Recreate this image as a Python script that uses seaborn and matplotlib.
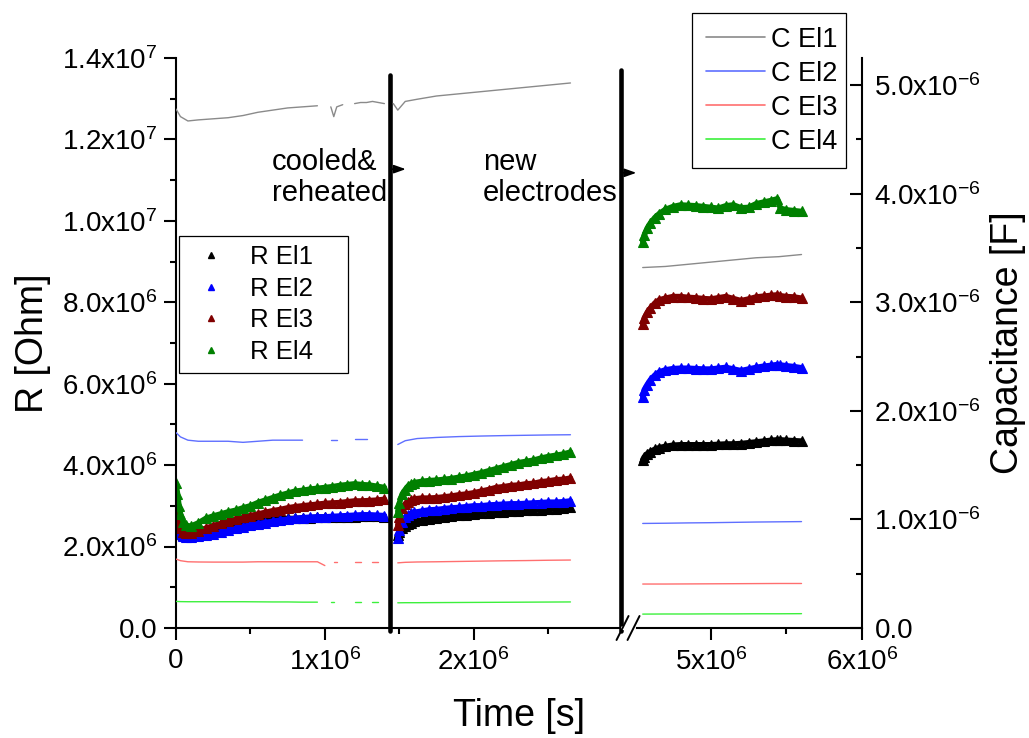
import numpy as np
import pandas as pd
import matplotlib
matplotlib.use("Agg")
import matplotlib.pyplot as plt
from matplotlib.lines import Line2D
import seaborn as sns

# ---------------- data ----------------
# time in units of 1e6 s, resistance in units of 1e6 Ohm, capacitance in units of 1e-6 F
r_names = ["R El1", "R El2", "R El3", "R El4"]
r_colors = ["#000000", "#0000ff", "#800000", "#008000"]
c_names = ["C El1", "C El2", "C El3", "C El4"]
c_colors = ["#8a8a8a", "#5f6fff", "#ff6f6f", "#3cf03c"]

# first run
t_r1 = [0.00, 0.01, 0.02, 0.03, 0.05, 0.07, 0.10, 0.15, 0.20, 0.25, 0.30, 0.35, 0.40,
        0.45, 0.50, 0.55, 0.60, 0.65, 0.70, 0.75, 0.80, 0.85, 0.90, 0.95, 1.00, 1.05,
        1.10, 1.15, 1.20, 1.25, 1.30, 1.35, 1.40]
r_el1_run1 = [2.50, 2.38, 2.32, 2.30, 2.28, 2.28, 2.28, 2.32, 2.36, 2.40, 2.45, 2.50, 2.54,
              2.58, 2.61, 2.63, 2.65, 2.67, 2.68, 2.69, 2.69, 2.70, 2.71, 2.72, 2.72, 2.72,
              2.72, 2.73, 2.73, 2.74, 2.74, 2.74, 2.73]
r_el2_run1 = [2.60, 2.45, 2.35, 2.30, 2.25, 2.23, 2.23, 2.25, 2.28, 2.32, 2.36, 2.40, 2.45,
              2.49, 2.53, 2.56, 2.59, 2.62, 2.65, 2.67, 2.69, 2.71, 2.72, 2.73, 2.73, 2.74,
              2.75, 2.76, 2.77, 2.78, 2.78, 2.77, 2.76]
r_el3_run1 = [3.06, 2.73, 2.53, 2.45, 2.37, 2.34, 2.34, 2.39, 2.45, 2.51, 2.57, 2.63, 2.68,
              2.72, 2.76, 2.80, 2.84, 2.88, 2.91, 2.95, 2.98, 3.00, 3.02, 3.04, 3.06, 3.07,
              3.08, 3.10, 3.12, 3.12, 3.13, 3.14, 3.16]
r_el4_run1 = [3.55, 3.30, 3.00, 2.80, 2.60, 2.52, 2.50, 2.58, 2.69, 2.75, 2.80, 2.85, 2.89,
              2.95, 3.00, 3.08, 3.14, 3.20, 3.26, 3.31, 3.36, 3.38, 3.41, 3.43, 3.45, 3.47,
              3.50, 3.52, 3.54, 3.52, 3.51, 3.48, 3.45]

# second run (cooled & reheated)
t_r2 = [1.49, 1.50, 1.52, 1.54, 1.56, 1.58, 1.60, 1.65, 1.70, 1.75, 1.80, 1.85, 1.90, 1.95,
        2.00, 2.05, 2.10, 2.15, 2.20, 2.25, 2.30, 2.35, 2.40, 2.45, 2.50, 2.55, 2.60, 2.65]
r_el1_run2 = [2.28, 2.36, 2.45, 2.50, 2.55, 2.58, 2.62, 2.65, 2.68, 2.71, 2.73, 2.75, 2.77, 2.78,
              2.80, 2.82, 2.83, 2.84, 2.86, 2.87, 2.88, 2.89, 2.90, 2.91, 2.92, 2.93, 2.94, 2.96]
r_el2_run2 = [2.20, 2.40, 2.61, 2.72, 2.78, 2.82, 2.84, 2.87, 2.90, 2.91, 2.93, 2.95, 2.96, 2.98,
              3.00, 3.00, 3.02, 3.03, 3.04, 3.05, 3.05, 3.06, 3.07, 3.08, 3.09, 3.09, 3.10, 3.12]
r_el3_run2 = [2.53, 2.73, 2.94, 3.05, 3.10, 3.14, 3.17, 3.19, 3.19, 3.20, 3.22, 3.24, 3.27, 3.29,
              3.32, 3.36, 3.40, 3.45, 3.47, 3.50, 3.51, 3.54, 3.55, 3.59, 3.61, 3.64, 3.65, 3.68]
r_el4_run2 = [2.86, 3.06, 3.29, 3.40, 3.49, 3.54, 3.57, 3.60, 3.62, 3.63, 3.65, 3.67, 3.70, 3.73,
              3.77, 3.81, 3.86, 3.91, 3.96, 4.01, 4.06, 4.09, 4.12, 4.17, 4.21, 4.24, 4.27, 4.32]

# third run (new electrodes)
t_r3 = [4.55, 4.56, 4.58, 4.60, 4.63, 4.66, 4.70, 4.75, 4.80, 4.85, 4.90, 4.95, 5.00,
        5.05, 5.10, 5.15, 5.20, 5.25, 5.30, 5.35, 5.40, 5.44, 5.46, 5.50, 5.55, 5.60]
r_el1_run3 = [4.13, 4.20, 4.28, 4.33, 4.39, 4.43, 4.46, 4.49, 4.50, 4.50, 4.50, 4.50, 4.50,
              4.51, 4.52, 4.52, 4.53, 4.55, 4.57, 4.59, 4.61, 4.62, 4.62, 4.61, 4.60, 4.59]
r_el2_run3 = [5.68, 5.85, 5.98, 6.09, 6.21, 6.29, 6.34, 6.37, 6.38, 6.38, 6.37, 6.36, 6.36,
              6.38, 6.40, 6.36, 6.32, 6.36, 6.40, 6.43, 6.45, 6.47, 6.46, 6.44, 6.42, 6.39]
r_el3_run3 = [7.47, 7.61, 7.75, 7.85, 7.98, 8.06, 8.10, 8.14, 8.14, 8.12, 8.11, 8.09, 8.08,
              8.11, 8.14, 8.09, 8.04, 8.08, 8.13, 8.15, 8.17, 8.18, 8.16, 8.14, 8.13, 8.10]
r_el4_run3 = [9.49, 9.65, 9.82, 9.94, 10.08, 10.18, 10.28, 10.35, 10.39, 10.38, 10.37, 10.35, 10.33,
              10.31, 10.37, 10.39, 10.32, 10.33, 10.42, 10.46, 10.50, 10.54, 10.31, 10.27, 10.25, 10.23]

# capacitance (None = no reading logged)
t_c1 = [0.00, 0.03, 0.08, 0.15, 0.25, 0.35, 0.45, 0.55, 0.65, 0.75, 0.85, 0.95, 1.00,
        1.04, 1.06, 1.08, 1.12, 1.16, 1.20, 1.24, 1.28, 1.32, 1.36, 1.40]
c_el1_run1 = [4.78, 4.71, 4.67, 4.68, 4.69, 4.70, 4.72, 4.75, 4.77, 4.79, 4.80, 4.81, None,
              4.80, 4.71, 4.80, 4.82, None, 4.83, 4.84, 4.84, 4.85, 4.84, 4.83]
c_el2_run1 = [1.80, 1.76, 1.73, 1.72, 1.72, 1.72, 1.71, 1.72, 1.73, 1.73, 1.73, None, None,
              1.735, 1.735, 1.735, None, None, 1.74, 1.74, 1.74, None, None, None]
c_el3_run1 = [0.635, 0.62, 0.61, 0.608, 0.607, 0.607, 0.607, 0.61, 0.61, 0.61, 0.61, 0.61, 0.575,
              None, 0.61, 0.61, None, None, 0.61, 0.61, None, 0.61, 0.61, None]
c_el4_run1 = [0.245, 0.243, 0.242, 0.242, 0.242, 0.242, 0.242, 0.241, 0.240, 0.240, 0.238, 0.238, None,
              0.236, 0.236, None, 0.236, None, 0.236, 0.236, None, 0.236, 0.236, None]

t_c2 = [1.46, 1.49, 1.54, 1.62, 1.75, 1.90, 2.05, 2.20, 2.35, 2.50, 2.65]
c_el1_run2 = [4.83, 4.77, 4.85, 4.87, 4.90, 4.92, 4.94, 4.96, 4.98, 5.00, 5.02]
c_el2_run2 = [None, 1.69, 1.725, 1.745, 1.755, 1.763, 1.768, 1.772, 1.775, 1.778, 1.78]
c_el3_run2 = [None, 0.60, 0.605, 0.608, 0.61, 0.613, 0.616, 0.619, 0.621, 0.624, 0.626]
c_el4_run2 = [None, 0.232, 0.233, 0.233, 0.234, 0.235, 0.236, 0.237, 0.238, 0.239, 0.240]

t_c3 = [4.55, 4.70, 4.85, 5.00, 5.15, 5.30, 5.45, 5.60]
c_el1_run3 = [3.32, 3.33, 3.35, 3.37, 3.39, 3.41, 3.42, 3.44]
c_el2_run3 = [0.963, 0.965, 0.968, 0.970, 0.973, 0.976, 0.978, 0.980]
c_el3_run3 = [0.405, 0.405, 0.406, 0.407, 0.408, 0.409, 0.410, 0.410]
c_el4_run3 = [0.128, 0.129, 0.129, 0.130, 0.130, 0.131, 0.131, 0.132]

# events marked by vertical bars (1e6 s)
event_times = [1.441, 2.99]
event_labels = ["cooled&\nreheated", "new\nelectrodes"]
event_label_x = [0.646, 2.06]

# axis ticks
x_major = [0, 1, 2, 5, 6]
x_major_labels = ["0", "1x10$^{6}$", "2x10$^{6}$", "5x10$^{6}$", "6x10$^{6}$"]
x_minor = [0.5, 1.5, 2.5, 5.5]
r_major = [0, 2, 4, 6, 8, 10, 12, 14]
r_major_labels = ["0.0", "2.0x10$^{6}$", "4.0x10$^{6}$", "6.0x10$^{6}$", "8.0x10$^{6}$",
                  "1.0x10$^{7}$", "1.2x10$^{7}$", "1.4x10$^{7}$"]
c_major = [0, 1, 2, 3, 4, 5]
c_major_labels = ["0.0", "1.0x10$^{-6}$", "2.0x10$^{-6}$", "3.0x10$^{-6}$",
                  "4.0x10$^{-6}$", "5.0x10$^{-6}$"]

# ---------------- long-form tables ----------------
def build_frame(names, runs, value_scale):
    rows = []
    for name, pieces in zip(names, runs):
        for k, (t, v) in enumerate(pieces):
            part = 0
            prev_missing = False
            for ti, vi in zip(t, v):
                if vi is None:
                    prev_missing = True
                    continue
                if prev_missing:
                    part += 1
                    prev_missing = False
                rows.append({"time": ti * 1e6, "value": vi * value_scale,
                             "series": name, "unit": f"{name}|{k}|{part}"})
    return pd.DataFrame(rows)

r_runs = [
    [(t_r1, r_el1_run1), (t_r2, r_el1_run2), (t_r3, r_el1_run3)],
    [(t_r1, r_el2_run1), (t_r2, r_el2_run2), (t_r3, r_el2_run3)],
    [(t_r1, r_el3_run1), (t_r2, r_el3_run2), (t_r3, r_el3_run3)],
    [(t_r1, r_el4_run1), (t_r2, r_el4_run2), (t_r3, r_el4_run3)],
]
c_runs = [
    [(t_c1, c_el1_run1), (t_c2, c_el1_run2), (t_c3, c_el1_run3)],
    [(t_c1, c_el2_run1), (t_c2, c_el2_run2), (t_c3, c_el2_run3)],
    [(t_c1, c_el3_run1), (t_c2, c_el3_run2), (t_c3, c_el3_run3)],
    [(t_c1, c_el4_run1), (t_c2, c_el4_run2), (t_c3, c_el4_run3)],
]
df_r = build_frame(r_names, r_runs, 1e6)
df_c = build_frame(c_names, c_runs, 1e-6)

# ---------------- style ----------------
sns.set_style("ticks")
plt.rcParams.update({
    "font.family": ["Liberation Sans", "DejaVu Sans"],
    "mathtext.fontset": "custom",
    "mathtext.rm": "Liberation Sans",
    "mathtext.it": "Liberation Sans:italic",
    "mathtext.bf": "Liberation Sans:bold",
    "mathtext.default": "regular",
    "axes.linewidth": 1.5,
    "axes.edgecolor": "black",
    "axes.labelcolor": "black",
    "text.color": "black",
    "xtick.color": "black",
    "ytick.color": "black",
})

fig = plt.figure(figsize=(10.29, 7.38), dpi=100)
ax = fig.add_axes([176 / 1029, 1 - 628 / 738, 686 / 1029, 570 / 738])
ax2 = ax.twinx()

sns.lineplot(data=df_r, x="time", y="value", hue="series", units="unit", estimator=None,
             hue_order=r_names, palette=r_colors, marker="^", markersize=7,
             markeredgewidth=0.8, lw=4.0, legend=False, ax=ax)
for ln in ax.lines:
    ln.set_markeredgecolor(ln.get_color())
sns.lineplot(data=df_c, x="time", y="value", hue="series", units="unit", estimator=None,
             hue_order=c_names, palette=c_colors, lw=1.0, legend=False, ax=ax2)

# ---------------- broken time axis ----------------
A, B, G, K = 3.0e6, 4.45e6, 0.034e6, 1.016

def fwd(x):
    x = np.asarray(x, dtype=float)
    return np.where(x <= A, x,
                    np.where(x >= B, A + G + (x - B) * K, A + (x - A) * G / (B - A)))

def inv(y):
    y = np.asarray(y, dtype=float)
    return np.where(y <= A, y,
                    np.where(y >= A + G, B + (y - A - G) / K, A + (y - A) * (B - A) / G))

ax.set_xscale("function", functions=(fwd, inv))
ax.set_xlim(0, 6e6)
ax.set_ylim(0, 1.4e7)
ax2.set_ylim(0, 5.25e-6)

ax.set_xticks([v * 1e6 for v in x_major])
ax.set_xticklabels(x_major_labels)
ax.set_xticks([v * 1e6 for v in x_minor], minor=True)
ax.set_yticks([v * 1e6 for v in r_major])
ax.set_yticklabels(r_major_labels)
ax.set_yticks([v * 1e6 for v in range(1, 14, 2)], minor=True)
ax2.set_yticks([v * 1e-6 for v in c_major])
ax2.set_yticklabels(c_major_labels)
ax2.set_yticks([v * 1e-6 for v in (0.5, 1.5, 2.5, 3.5, 4.5)], minor=True)

for a in (ax, ax2):
    a.spines["top"].set_visible(False)
ax.spines["right"].set_visible(False)
ax2.spines["left"].set_visible(False)
ax2.spines["bottom"].set_visible(False)
ax.grid(False)
ax2.grid(False)

ax.tick_params(axis="x", which="major", direction="out", length=8.5, width=1.5,
               labelsize=20, pad=6)
ax.tick_params(axis="x", which="minor", direction="out", length=4.5, width=1.5)
ax.tick_params(axis="y", which="major", direction="out", length=8.5, width=1.5,
               labelsize=20, pad=5)
ax.tick_params(axis="y", which="minor", direction="out", length=4.5, width=1.5)
ax2.tick_params(axis="y", which="major", direction="in", length=8.5, width=1.5,
                labelsize=20, pad=9)
ax2.tick_params(axis="y", which="minor", direction="in", length=4.5, width=1.5)

ax.set_xlabel("Time [s]", fontsize=27, labelpad=16)
ax.set_ylabel("R [Ohm]", fontsize=27, labelpad=8)
ax2.set_ylabel("Capacitance [F]", fontsize=27, labelpad=6)

# event bars, notes and arrows
bar_tops = [0.970, 0.979]
arrow_y = [11.27e6, 11.18e6]
for tx, top, lab, lx, ay in zip(event_times, bar_tops, event_labels, event_label_x, arrow_y):
    ax.axvline(tx * 1e6, ymin=-0.006, ymax=top, color="black", lw=3.3, zorder=4,
               clip_on=False)
    ax.text(lx * 1e6, 11.78e6, lab, fontsize=21, ha="left", va="top", linespacing=1.12)
    ax.annotate("", xy=(tx * 1e6, ay), xytext=(11, 0), textcoords="offset points",
                arrowprops=dict(arrowstyle="<|-,head_length=0.7,head_width=0.25",
                                color="black", lw=1.2, shrinkA=0, shrinkB=0))

# break marks on the time axis
fig.canvas.draw()
to_fig = fig.transFigure.inverted()
xa, ya = ax.transData.transform((A, 0))
xs = [xa, xa + 11]
gap = Line2D(*zip(*to_fig.transform([(xs[0], ya), (xs[1], ya)])), color="white",
             lw=3, transform=fig.transFigure, zorder=5)
fig.add_artist(gap)
for xc in xs:
    p0 = to_fig.transform((xc - 6, ya - 12))
    p1 = to_fig.transform((xc + 6, ya + 12))
    fig.add_artist(Line2D([p0[0], p1[0]], [p0[1], p1[1]], color="black", lw=1.4,
                          transform=fig.transFigure, zorder=6))

# legends
r_handles = [Line2D([], [], ls="none", marker="^", ms=5, color=c) for c in r_colors]
leg_r = ax.legend(r_handles, r_names, loc="upper left",
                  bbox_to_anchor=(3 / 686, 0.0, 169 / 686, 392 / 570), mode="expand",
                  fontsize=18.5, frameon=True, fancybox=False, framealpha=1,
                  edgecolor="black", borderpad=0.35, labelspacing=0.3,
                  handlelength=1.8, handletextpad=0.6, borderaxespad=0)
leg_r.get_frame().set_linewidth(0.9)

c_handles = [Line2D([], [], color=c, lw=1.2) for c in c_colors]
leg_c = fig.legend(c_handles, c_names, loc="upper left",
                   bbox_to_anchor=(692 / 1029, 0.0, 154 / 1029, 1 - 13 / 738), mode="expand",
                   fontsize=19.5, frameon=True, fancybox=False, framealpha=1,
                   edgecolor="black", borderpad=0.5, labelspacing=0.3,
                   handlelength=2.2, handletextpad=0.2, borderaxespad=0)
leg_c.get_frame().set_linewidth(0.9)

fig.savefig("out.png", dpi=100)
